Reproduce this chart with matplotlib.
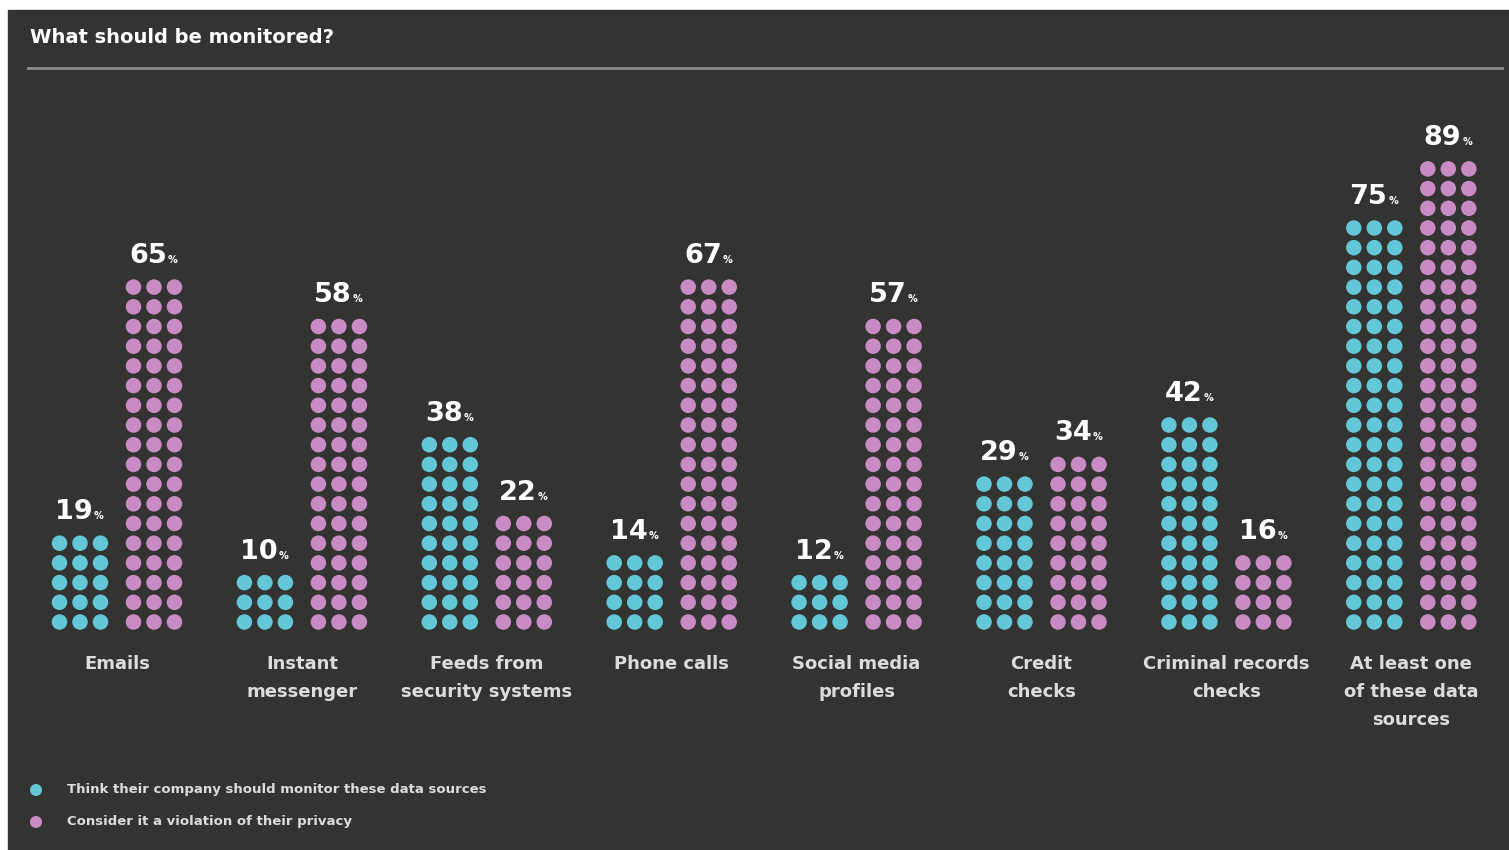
import matplotlib.pyplot as plt
from matplotlib.patches import Rectangle

# data
categories = ['Emails', 'Instant\nmessenger', 'Feeds from\nsecurity systems', 'Phone calls',
              'Social media\nprofiles', 'Credit\nchecks', 'Criminal records\nchecks',
              'At least one\nof these data\nsources']
monitor = [19, 10, 38, 14, 12, 29, 42, 75]
violation = [65, 58, 22, 67, 57, 34, 16, 89]
# rows of three dots drawn for each value (counted on the picture)
monitor_rows = [5, 3, 10, 4, 3, 8, 11, 21]
violation_rows = [18, 16, 6, 18, 16, 9, 4, 24]

legend_labels = ['Think their company should monitor these data sources',
                 'Consider it a violation of their privacy']

BG = '#333331'
CYAN = '#63c7d7'
PINK = '#c98bc4'
TXT = '#dcdcdc'

fig = plt.figure(figsize=(15.09, 8.5), dpi=100, facecolor='white')
ax = fig.add_axes([0, 0, 1, 1])
ax.set_xlim(0, 1509)
ax.set_ylim(850, 0)
ax.axis('off')
ax.add_patch(Rectangle((8, 10), 1501, 840, color=BG, zorder=0))

# title + rule
ax.text(30, 37, 'What should be monitored?', color='white', fontsize=14,
        fontweight='bold', va='center', ha='left')
ax.plot([28, 1502], [68, 68], color='#8c8c8a', lw=2)

x0, step = 117, 184.9
base, gap, dx = 622, 19.7, 20.5


def draw_column(cx, rows, value, color):
    xs, ys = [], []
    for r in range(rows):
        for c in (-1, 0, 1):
            xs.append(cx + c * dx)
            ys.append(base - r * gap)
    ax.scatter(xs, ys, s=125, color=color, edgecolors='none', zorder=3)
    top = base - (rows - 1) * gap - 31
    ax.text(cx + 13, top, str(value), color='white', fontsize=19.5, fontweight='bold',
            ha='right', va='center')
    ax.text(cx + 14, top + 4, '%', color='white', fontsize=7, fontweight='bold',
            ha='left', va='center')


for i, cat in enumerate(categories):
    cx = x0 + i * step
    draw_column(cx - 37, monitor_rows[i], monitor[i], CYAN)
    draw_column(cx + 37, violation_rows[i], violation[i], PINK)
    ax.text(cx, 655, cat, color=TXT, fontsize=13, fontweight='bold', ha='center',
            va='top', linespacing=1.72)

# legend
for k, (lab, col) in enumerate(zip(legend_labels, [CYAN, PINK])):
    y = 790 + k * 32
    ax.scatter([36], [y], s=75, color=col, edgecolors='none')
    ax.text(67, y, lab, color=TXT, fontsize=9.5, fontweight='bold', ha='left', va='center')

plt.savefig('out.png', dpi=100, facecolor=fig.get_facecolor())
